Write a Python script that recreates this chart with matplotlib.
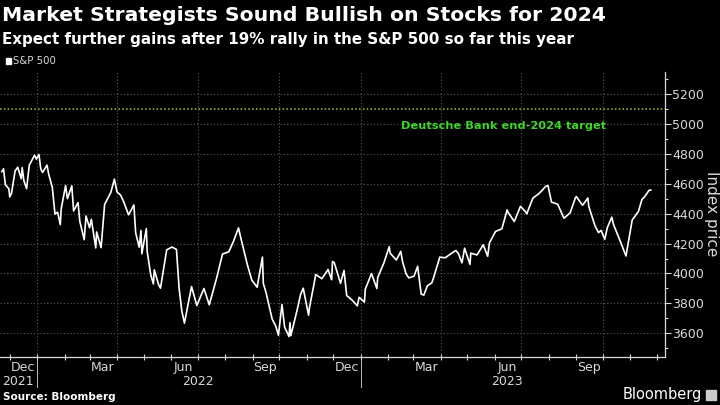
import pandas as pd
import matplotlib
matplotlib.use('Agg')
import matplotlib.pyplot as plt
import matplotlib.dates as mdates
from matplotlib.ticker import MultipleLocator, NullFormatter
from matplotlib.patches import Rectangle

# S&P 500 closes (selected trading days)
dates = [
    "2021-11-22", "2021-11-24", "2021-11-26", "2021-11-30", "2021-12-01", "2021-12-03",
    "2021-12-07", "2021-12-10", "2021-12-14", "2021-12-15", "2021-12-17", "2021-12-20",
    "2021-12-23", "2021-12-29", "2021-12-31", "2022-01-03", "2022-01-05", "2022-01-07",
    "2022-01-12", "2022-01-14", "2022-01-18", "2022-01-21", "2022-01-24", "2022-01-27",
    "2022-01-28", "2022-02-02", "2022-02-04", "2022-02-09", "2022-02-11", "2022-02-16",
    "2022-02-18", "2022-02-23", "2022-02-25", "2022-03-01", "2022-03-03", "2022-03-08",
    "2022-03-09", "2022-03-14", "2022-03-18", "2022-03-25", "2022-03-29", "2022-04-01",
    "2022-04-05", "2022-04-08", "2022-04-14", "2022-04-20", "2022-04-22", "2022-04-26",
    "2022-04-28", "2022-04-29", "2022-05-04", "2022-05-05", "2022-05-09", "2022-05-12",
    "2022-05-13", "2022-05-18", "2022-05-20", "2022-05-27", "2022-06-02", "2022-06-07",
    "2022-06-10", "2022-06-13", "2022-06-16", "2022-06-24", "2022-06-30", "2022-07-08",
    "2022-07-14", "2022-07-22", "2022-07-29", "2022-08-05", "2022-08-10", "2022-08-16",
    "2022-08-19", "2022-08-26", "2022-08-31", "2022-09-06", "2022-09-12", "2022-09-13",
    "2022-09-16", "2022-09-23", "2022-09-27", "2022-09-30", "2022-10-04", "2022-10-07",
    "2022-10-12", "2022-10-13", "2022-10-14", "2022-10-21", "2022-10-25", "2022-10-28",
    "2022-11-03", "2022-11-04", "2022-11-10", "2022-11-11", "2022-11-18", "2022-11-25",
    "2022-11-29", "2022-11-30", "2022-12-02", "2022-12-09", "2022-12-13", "2022-12-16",
    "2022-12-22", "2022-12-28", "2022-12-30", "2023-01-05", "2023-01-06", "2023-01-13",
    "2023-01-19", "2023-01-20", "2023-01-27", "2023-02-02", "2023-02-03", "2023-02-10",
    "2023-02-15", "2023-02-17", "2023-02-21", "2023-02-24", "2023-03-02", "2023-03-06",
    "2023-03-10", "2023-03-13", "2023-03-17", "2023-03-22", "2023-03-24", "2023-03-31",
    "2023-04-06", "2023-04-14", "2023-04-18", "2023-04-21", "2023-04-25", "2023-04-28",
    "2023-05-04", "2023-05-05", "2023-05-12", "2023-05-19", "2023-05-24", "2023-05-26",
    "2023-06-02", "2023-06-09", "2023-06-15", "2023-06-16", "2023-06-23", "2023-06-30",
    "2023-07-06", "2023-07-07", "2023-07-14", "2023-07-21", "2023-07-26", "2023-07-28",
    "2023-07-31", "2023-08-04", "2023-08-11", "2023-08-18", "2023-08-25", "2023-08-31",
    "2023-09-01", "2023-09-08", "2023-09-14", "2023-09-15", "2023-09-22", "2023-09-26",
    "2023-09-29", "2023-10-03", "2023-10-06", "2023-10-11", "2023-10-13", "2023-10-20",
    "2023-10-27", "2023-11-03", "2023-11-10", "2023-11-14", "2023-11-17", "2023-11-22",
    "2023-11-24",
]
spx = [
    4682, 4701, 4595, 4567, 4513, 4538,
    4686, 4712, 4634, 4709, 4620, 4568,
    4725, 4793, 4766, 4797, 4700, 4677,
    4726, 4663, 4577, 4398, 4410, 4327,
    4432, 4589, 4501, 4587, 4419, 4475,
    4349, 4226, 4385, 4306, 4363, 4171,
    4278, 4173, 4463, 4543, 4632, 4546,
    4525, 4488, 4393, 4459, 4272, 4176,
    4288, 4132, 4300, 4147, 3991, 3930,
    4024, 3923, 3901, 4158, 4177, 4161,
    3901, 3750, 3667, 3912, 3785, 3899,
    3790, 3962, 4130, 4145, 4210, 4305,
    4228, 4058, 3955, 3908, 4110, 3932,
    3873, 3693, 3647, 3586, 3791, 3640,
    3577, 3670, 3583, 3752, 3859, 3901,
    3720, 3771, 3956, 3993, 3965, 4026,
    3958, 4080, 4072, 3934, 4020, 3852,
    3822, 3783, 3840, 3808, 3895, 3999,
    3899, 3973, 4071, 4180, 4136, 4090,
    4148, 4079, 3997, 3970, 3982, 4048,
    3862, 3855, 3917, 3937, 3971, 4109,
    4105, 4138, 4154, 4133, 4071, 4169,
    4061, 4136, 4124, 4192, 4115, 4205,
    4282, 4299, 4426, 4410, 4348, 4450,
    4411, 4399, 4505, 4536, 4567, 4582,
    4589, 4478, 4464, 4370, 4406, 4508,
    4515, 4457, 4505, 4450, 4320, 4274,
    4288, 4229, 4308, 4377, 4327, 4224,
    4117, 4358, 4415, 4496, 4514, 4557,
    4559,
]
target = 5100
target_label = "Deutsche Bank end-2024 target"
month_labels = ["Dec", "Mar", "Jun", "Sep", "Dec", "Mar", "Jun", "Sep"]
month_label_dates = ["2021-12-16", "2022-03-16", "2022-06-15", "2022-09-15",
                     "2022-12-16", "2023-03-16", "2023-06-15", "2023-09-15"]
years = ["2021", "2022", "2023"]
year_label_dates = ["2021-12-10", "2022-07-01", "2023-06-15"]

df = pd.DataFrame({"date": pd.to_datetime(dates), "spx": spx})

BG = "black"
FG = "#d9d9d9"
GRID = "#5a5a5a"
GREEN = "#3fd42a"

plt.rcParams['font.family'] = ['DejaVu Sans']
fig = plt.figure(figsize=(7.2, 4.05), dpi=100, facecolor=BG)
ax = fig.add_axes([0, 48 / 405, 665 / 720, (357 - 72) / 405])
ax.set_facecolor(BG)

ax.plot(df["date"], df["spx"], color="white", lw=1.2, solid_joinstyle="round")
ax.axhline(target, color="#9ccc2e", lw=1.1, ls=(0, (1, 1.5)))
ax.text(pd.Timestamp("2023-06-11"), 4990, target_label, color=GREEN,
        fontsize=8.2, fontweight="bold", ha="center", va="center")

ax.set_xlim(pd.Timestamp("2021-11-20"), pd.Timestamp("2023-12-10"))
ax.set_ylim(3440, 5350)

# axes / ticks
ax.yaxis.tick_right()
ax.yaxis.set_major_locator(MultipleLocator(200))
ax.yaxis.set_minor_locator(MultipleLocator(100))
ax.tick_params(axis="y", which="major", colors=FG, labelsize=9, length=4, width=0.8, pad=1)
ax.tick_params(axis="y", which="minor", colors=FG, length=2.5, width=0.8)
fig.text(711 / 720, 1 - 214 / 405, "Index price", color=FG, fontsize=11,
         rotation=270, ha="center", va="center")

ax.xaxis.set_major_locator(mdates.MonthLocator(bymonth=[1, 4, 7, 10]))
ax.xaxis.set_minor_locator(mdates.MonthLocator())
ax.xaxis.set_major_formatter(NullFormatter())
ax.tick_params(axis="x", which="both", colors=FG, direction="inout", length=4, width=0.8)

for s in ["top", "left"]:
    ax.spines[s].set_visible(False)
for s in ["right", "bottom"]:
    ax.spines[s].set_color(FG)
    ax.spines[s].set_linewidth(0.9)

ax.grid(True, which="major", color=GRID, ls=(0, (1, 2)), lw=0.8)

trans = ax.get_xaxis_transform()
for d, lab in zip(month_label_dates, month_labels):
    ax.text(pd.Timestamp(d), -0.014, lab, transform=trans, color=FG,
            fontsize=9, ha="center", va="top")
for d, lab in zip(year_label_dates, years):
    ax.text(pd.Timestamp(d), -0.062, lab, transform=trans, color=FG,
            fontsize=9, ha="center", va="top")
for d in ["2022-01-01", "2023-01-01"]:
    ax.plot([pd.Timestamp(d)] * 2, [0, -0.105], transform=trans, color=FG,
            lw=0.6, clip_on=False)

# header / footer
fig.text(0.003, 0.985, "Market Strategists Sound Bullish on Stocks for 2024",
         color="white", fontsize=14.7, fontweight="bold", va="top")
fig.text(0.003, 0.922, "Expect further gains after 19% rally in the S&P 500 so far this year",
         color="white", fontsize=10.9, fontweight="bold", va="top")
fig.patches.append(Rectangle((6 / 720, 1 - 64 / 405), 5 / 720, 6 / 405,
                             transform=fig.transFigure, color="white"))
fig.text(13 / 720, 1 - 61 / 405, "S&P 500", color=FG, fontsize=7.3, va="center")
fig.text(0.004, 1 - 397 / 405, "Source: Bloomberg", color="white", fontsize=7.5,
         fontweight="bold", va="center")
fig.text(702 / 720, 1 - 395 / 405, "Bloomberg", color="white", fontsize=10.5,
         ha="right", va="center")
fig.patches.append(Rectangle((706 / 720, 1 - 400 / 405), 10 / 720, 10 / 405,
                             transform=fig.transFigure, color="#cccccc"))

plt.savefig("out.png", dpi=100, facecolor=BG)
plt.close(fig)
